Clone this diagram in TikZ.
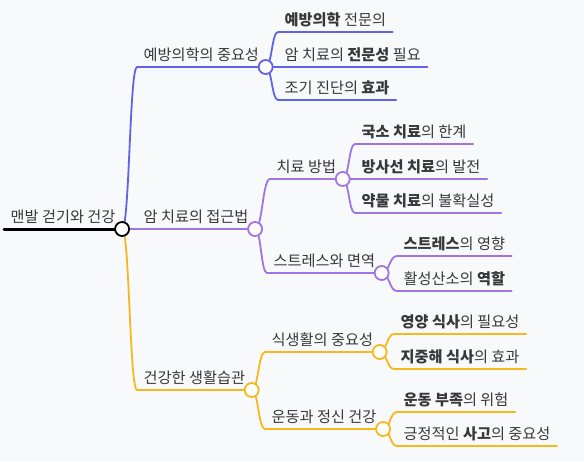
\documentclass[tikz,border=0pt]{standalone}
\usepackage{fontspec}
\setmainfont{Noto Sans CJK KR}
\usetikzlibrary{calc}

\definecolor{bgGray}{HTML}{F8F9FB}
\definecolor{textGray}{HTML}{383838}
\definecolor{blueBranch}{HTML}{6262E8}
\definecolor{purpleBranch}{HTML}{A074E4}
\definecolor{yellowBranch}{HTML}{F6B81C}

\begin{document}
\begin{tikzpicture}
[x=1pt,y=-1pt,
  mapText/.style={font=\fontsize{15.2}{18}\selectfont,text=textGray,
    inner xsep=6.5pt,inner ysep=0pt,anchor=base west},
  mapLine/.style={line width=1.8pt,line cap=round},
  mapDot/.style={circle,draw,fill=white,line width=1.8pt,
    minimum size=14pt,inner sep=0pt}]
\fill[bgGray] (0,0) rectangle (584,461);

% name / line start x / line y / text
\foreach \nodeName/\lineX/\lineY/\nodeText in {
  root/4/229/{맨발 걷기와 건강},
  b1/137/67/{예방의학의 중요성},
  c11/278/32/{\textbf{예방의학} 전문의},
  c12/278/67/{암 치료의 \textbf{전문성} 필요},
  c13/278/100/{조기 진단의 \textbf{효과}},
  b2/137/229/{암 치료의 접근법},
  b21/270/179/{치료 방법},
  c211/355/144/{\textbf{국소 치료}의 한계},
  c212/355/179/{\textbf{방사선 치료}의 발전},
  c213/355/213/{\textbf{약물 치료}의 불확실성},
  b22/267/273/{스트레스와 면역},
  c221/397/256/{\textbf{스트레스}의 영향},
  c222/397/291/{활성산소의 \textbf{역할}},
  b3/137/390/{건강한 생활습관},
  b31/265/352/{식생활의 중요성},
  c311/394/334/{\textbf{영양 식사}의 필요성},
  c312/394/369/{\textbf{지중해 식사}의 효과},
  b32/265/429/{운동과 정신 건강},
  c321/397/412/{\textbf{운동 부족}의 위험},
  c322/397/446/{긍정적인 \textbf{사고}의 중요성}}
{
  \node[mapText] (\nodeName) at (\lineX,\lineY-6.5) {\nodeText};
  \coordinate (\nodeName-s) at ([yshift=-6.5pt]\nodeName.base west);
  \coordinate (\nodeName-e) at ([yshift=-6.5pt]\nodeName.base east);
}

% links between parent dot and child line
\foreach \fromNode/\toNode/\lineCol in {
  root/b1/blueBranch, root/b2/purpleBranch, root/b3/yellowBranch,
  b1/c11/blueBranch, b1/c12/blueBranch, b1/c13/blueBranch,
  b2/b21/purpleBranch, b2/b22/purpleBranch,
  b21/c211/purpleBranch, b21/c212/purpleBranch, b21/c213/purpleBranch,
  b22/c221/purpleBranch, b22/c222/purpleBranch,
  b3/b31/yellowBranch, b3/b32/yellowBranch,
  b31/c311/yellowBranch, b31/c312/yellowBranch,
  b32/c321/yellowBranch, b32/c322/yellowBranch}
{
  \draw[mapLine,draw=\lineCol] let \p1=(\fromNode-e), \p2=(\toNode-s) in
    (\p1) .. controls (\x1/2+\x2/2,\y1) and (\x1/2+\x2/2,\y2) .. (\p2);
}

% underlines
\foreach \nodeName/\lineCol in {
  b1/blueBranch, c11/blueBranch, c12/blueBranch, c13/blueBranch,
  b2/purpleBranch, b21/purpleBranch, c211/purpleBranch, c212/purpleBranch,
  c213/purpleBranch, b22/purpleBranch, c221/purpleBranch, c222/purpleBranch,
  b3/yellowBranch, b31/yellowBranch, c311/yellowBranch, c312/yellowBranch,
  b32/yellowBranch, c321/yellowBranch, c322/yellowBranch}
{
  \draw[mapLine,draw=\lineCol] (\nodeName-s) -- (\nodeName-e);
}
\draw[mapLine,line width=3pt,draw=black] (root-s) -- (root-e);

% dots
\foreach \nodeName/\lineCol in {
  root/black, b1/blueBranch, b2/purpleBranch, b21/purpleBranch,
  b22/purpleBranch, b3/yellowBranch, b31/yellowBranch, b32/yellowBranch}
{
  \node[mapDot,draw=\lineCol] (\nodeName-dot) at (\nodeName-e) {};
}
\end{tikzpicture}
\end{document}
